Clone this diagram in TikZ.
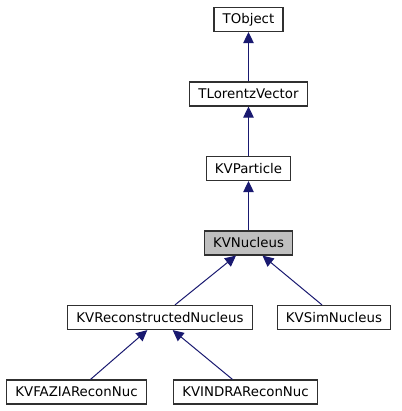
\documentclass[tikz,border=0pt]{standalone}
\usepackage{fontspec}
\setmainfont{DejaVu Sans}
\usetikzlibrary{arrows.meta,calc}
\definecolor{edgeblue}{RGB}{25,25,112}
\definecolor{boxgrey}{RGB}{48,48,48}
\definecolor{focusfill}{RGB}{191,191,191}

\begin{document}
\begin{tikzpicture}[x=0.75pt,y=-0.75pt,
		cls/.style={draw=boxgrey, line width=0.9pt, fill=white, minimum height=18pt,
			inner xsep=6.6pt, inner ysep=0pt, font=\fontsize{10pt}{12pt}\selectfont},
		focus/.style={cls, fill=focusfill},
		inherit/.style={edgeblue, line width=0.75pt, -{Triangle[length=8.25pt,width=7.9pt]}}]
	\useasboundingbox (0,0) rectangle (401,411);
	% class boxes
	\node[cls] (tobj) at (248.5,19.5) {TObject};
	\node[cls] (tlv) at (248.5,94) {TLorentzVector};
	\node[cls] (part) at (248.5,168.5) {KVParticle};
	\node[focus] (nuc) at (248.5,243) {KVNucleus};
	\node[cls] (recon) at (160,317.5) {KVReconstructedNucleus};
	\node[cls] (sim) at (334,317.5) {KVSimNucleus};
	\node[cls] (fazia) at (76.5,392) {KVFAZIAReconNuc};
	\node[cls] (indra) at (245.5,392) {KVINDRAReconNuc};
	% inheritance
	\draw[inherit] (tlv) -- (tobj);
	\draw[inherit] (part) -- (tlv);
	\draw[inherit] (nuc) -- (part);
	\draw[inherit] ($(recon.north)+(15,0)$) -- ($(nuc.south)+(-12.5,0)$);
	\draw[inherit] ($(sim.north)+(-12,0)$) -- ($(nuc.south)+(14,0)$);
	\draw[inherit] ($(fazia.north)+(14,0)$) -- ($(recon.south)+(-12.7,0)$);
	\draw[inherit] ($(indra.north)+(-13,0)$) -- ($(recon.south)+(12.7,0)$);
\end{tikzpicture}
\end{document}
